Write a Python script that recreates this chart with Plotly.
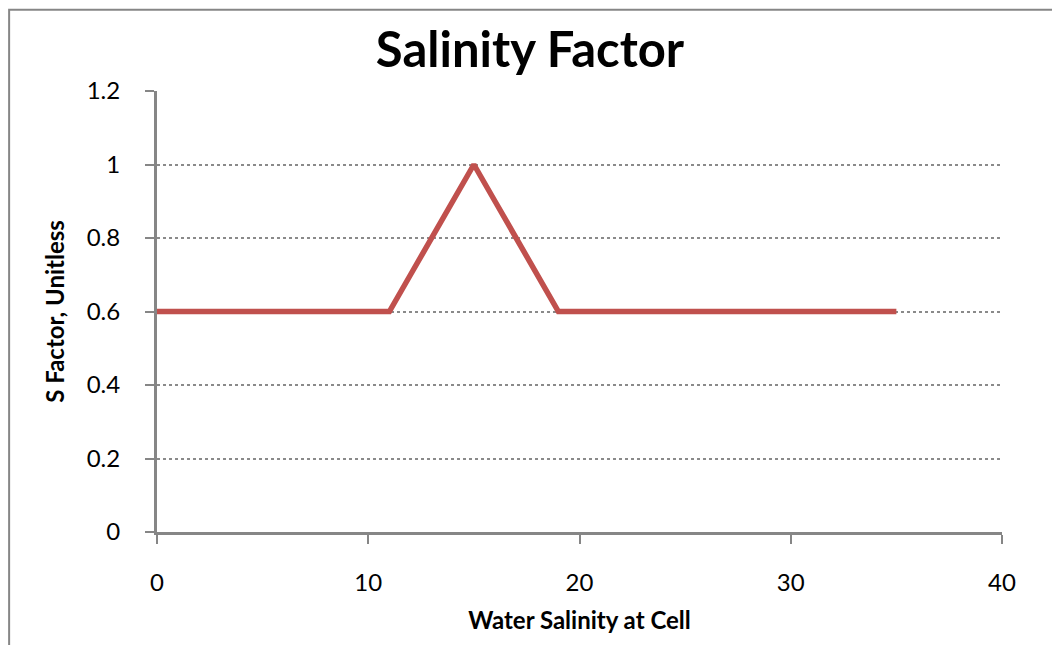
import plotly.graph_objects as go

# salinity (x) and S factor (y)
salinity = list(range(0, 36))
s_factor = [0.6] * 11 + [0.6, 0.7, 0.8, 0.9, 1.0, 0.9, 0.8, 0.7, 0.6] + [0.6] * 16

x_ticks = [0, 10, 20, 30, 40]
y_ticks = [0, 0.2, 0.4, 0.6, 0.8, 1, 1.2]
y_tick_text = ["0", "0.2", "0.4", "0.6", "0.8", "1", "1.2"]

font_name = "Lato"
axis_grey = "#868686"

fig = go.Figure()
fig.add_trace(go.Scatter(
    x=salinity, y=s_factor, mode="lines",
    line=dict(color="#C0504D", width=5.5),
    showlegend=False,
))

# page body has an 8px margin, so the figure is offset by 8px
fig.update_layout(
    width=1044, height=637,
    paper_bgcolor="white", plot_bgcolor="white",
    margin=dict(l=149, r=50, t=83, b=113),
    font=dict(family=font_name, color="black", size=24),
    title=dict(text="<b>Salinity Factor</b>", x=0.5, xanchor="center",
               y=1 - 42 / 637, yanchor="middle", font=dict(size=49, family=font_name)),
    shapes=[dict(type="rect", xref="paper", yref="paper",
                 x0=-0.175, x1=1.2, y0=-0.6, y1=1.184,
                 line=dict(color=axis_grey, width=2), layer="below")],
)

fig.update_xaxes(
    range=[0, 40], tickvals=x_ticks, showgrid=False, zeroline=False,
    showline=True, linecolor=axis_grey, linewidth=3,
    ticks="outside", ticklen=9, tickcolor=axis_grey, tickwidth=2,
    ticklabelstandoff=18, tickfont=dict(size=24), automargin=False,
    title=dict(text="<b>Water Salinity at Cell</b>", font=dict(size=24), standoff=18),
)
fig.update_yaxes(
    range=[0, 1.2], tickvals=y_ticks, ticktext=y_tick_text,
    showgrid=True, gridcolor="#8a8a8a", griddash="dot", gridwidth=1.5,
    zeroline=False, showline=True, linecolor=axis_grey, linewidth=3,
    ticks="outside", ticklen=9, tickcolor=axis_grey, tickwidth=2,
    ticklabelstandoff=20, tickfont=dict(size=24), automargin=False,
    title=dict(text="<b>S Factor, Unitless</b>", font=dict(size=24), standoff=16),
)

fig.write_html("out.html")
